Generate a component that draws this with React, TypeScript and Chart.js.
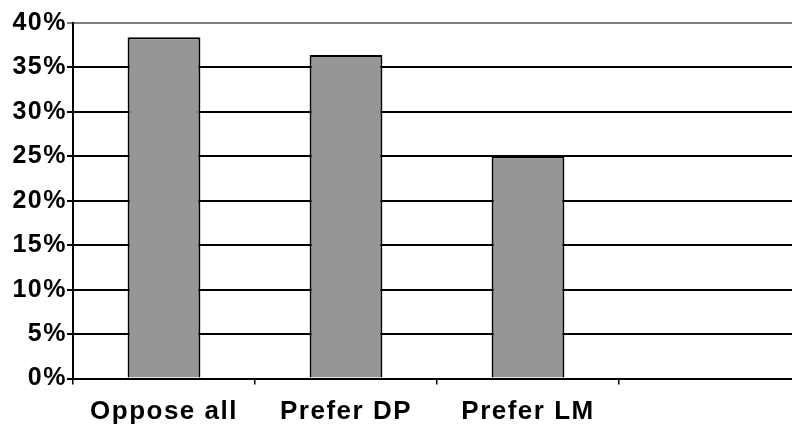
import React, { useEffect, useRef } from "react";
import { Chart, registerables } from "chart.js";

Chart.register(...registerables);

const categories = ["Oppose all", "Prefer DP", "Prefer LM", ""];
const values = [38.4, 36.4, 25.0, null];
const yTicks = [0, 5, 10, 15, 20, 25, 30, 35, 40];

const FONT = "'Liberation Sans', Arial, sans-serif";

export default function App() {
  const ref = useRef<HTMLCanvasElement | null>(null);

  useEffect(() => {
    if (!ref.current) return;
    const spacingPlugin = {
      id: "spacing",
      beforeDraw(chart: any) {
        chart.ctx.letterSpacing = "1.5px";
      },
    };
    const chart = new Chart(ref.current, {
      type: "bar",
      data: {
        labels: categories,
        datasets: [
          {
            data: values as any,
            backgroundColor: "#969696",
            borderColor: "#000000",
            borderWidth: 2,
            barPercentage: 0.4,
            categoryPercentage: 1,
          },
        ],
      },
      plugins: [spacingPlugin],
      options: {
        responsive: false,
        animation: false,
        layout: { padding: { left: 0, top: 23, right: 0, bottom: 0 } },
        plugins: { legend: { display: false }, tooltip: { enabled: false } },
        scales: {
          x: {
            offset: true,
            grid: {
              offset: true,
              drawOnChartArea: false,
              drawTicks: true,
              tickLength: 6,
              color: "#000000",
              lineWidth: 1.5,
            },
            border: { display: true, color: "#000000", width: 2 },
            ticks: {
              autoSkip: false,
              maxRotation: 0,
              minRotation: 0,
              padding: 12,
              color: "#000000",
              font: { family: FONT, size: 26, weight: "bold" },
            },
            afterFit(scale: any) {
              scale.height = 47.5;
            },
          },
          y: {
            min: 0,
            max: 40,
            afterBuildTicks(scale: any) {
              scale.ticks = yTicks.map((v) => ({ value: v }));
            },
            grid: {
              color: (ctx: any) => (ctx.tick && ctx.tick.value === 40 ? "#808080" : "#000000"),
              lineWidth: 2,
              tickLength: 6,
              drawTicks: true,
            },
            border: { display: true, color: "#000000", width: 2 },
            ticks: {
              padding: 0,
              color: "#000000",
              font: { family: FONT, size: 25, weight: "bold" },
              callback: (v: any) => v + "%",
            },
            afterFit(scale: any) {
              scale.width = 73;
            },
          },
        },
      },
    });
    return () => chart.destroy();
  }, []);

  return (
    <div
      style={{
        position: "fixed",
        left: 0,
        top: 0,
        width: 792,
        height: 426,
        overflow: "hidden",
        background: "#ffffff",
      }}
    >
      <canvas ref={ref} width={801} height={426} style={{ display: "block" }} />
    </div>
  );
}
